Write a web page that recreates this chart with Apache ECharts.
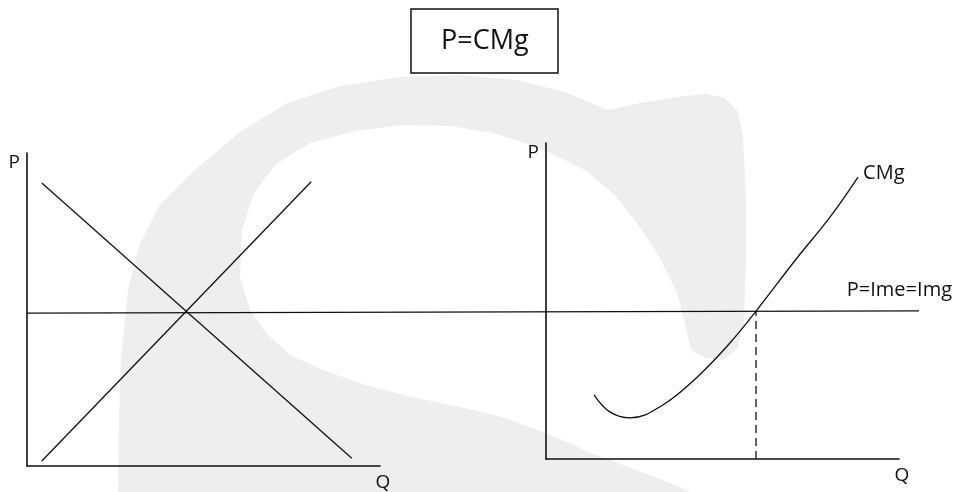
<!DOCTYPE html>
<html>
<head>
<meta charset="utf-8">
<title>P=CMg</title>
<script src="https://cdn.jsdelivr.net/npm/echarts/dist/echarts.min.js"></script>
<style>
  html,body{margin:0;padding:0;background:#fff;}
  #main{width:954px;height:492px;}
</style>
</head>
<body>
<div id="main"></div>
<script>
// left panel: market (demand / supply), units
const demand=[[0.42,9.04],[9.2,0.25]];
const supply=[[0.42,0.16],[8.05,9.08]];
// price level, one line across both panels (own wide grid, same units as the left panel)
const priceLine=[[0,4.9],[25.27,4.97]];
// right panel: firm, marginal cost curve
const cmg=[[1.36,2.03],[1.81,1.49],[2.38,1.30],[3.31,1.71],[4.28,2.59],[5.21,3.67],
  [5.95,4.68],[7.11,6.36],[8.05,7.66],[8.84,8.92]];
const qStar=[[5.95,0],[5.95,4.68]];
const labels={title:'P=CMg',p:'P',q:'Q',cmg:'CMg',price:'P=Ime=Img'};

// light background logo (decoration only)
const watermark=[[118,492],[119,420],[121,360],[128,290],[140,243],[160,205],[195,170],[240,132],[287,103],
  [340,86],[401,77],[460,75],[516,80],[565,92],[608,110],[640,103],[677,97],[705,94],[723,97],[737,110],
  [743,135],[746,200],[746,260],[744,320],[738,348],[723,360],[705,358],[691,350],[684,320],[677,293],
  [660,258],[640,227],[615,195],[585,170],[540,148],[493,133],[450,126],[401,125],[355,131],[310,143],
  [275,165],[254,193],[242,230],[240,277],[250,310],[265,332],[290,355],[323,370],[365,385],[412,397],
  [460,407],[502,417],[546,433],[591,453],[636,470],[680,487],[690,492]];

const FONT='Open Sans';
const INK='#111';

function axisPair(gridIndex){
  const line={show:true,onZero:false,lineStyle:{color:INK,width:1.6}};
  return {
    x:{type:'value',gridIndex:gridIndex,min:0,max:10,axisLine:line,axisTick:{show:false},
      axisLabel:{show:false},splitLine:{show:false},
      name:labels.q,nameLocation:'end',nameGap:3,
      nameTextStyle:{fontFamily:FONT,fontSize:19,color:INK,align:'center',verticalAlign:'top',padding:[7,0,0,0]}},
    y:{type:'value',gridIndex:gridIndex,min:0,max:10,axisLine:line,axisTick:{show:false},
      axisLabel:{show:false},splitLine:{show:false},
      name:labels.p,nameLocation:'end',nameGap:-10,
      nameTextStyle:{fontFamily:FONT,fontSize:19,color:INK,align:'right',verticalAlign:'middle',padding:[0,7,0,0]}}
  };
}
const a0=axisPair(0),a1=axisPair(1);
// hidden axes for the wide price grid
const hidden={show:false,type:'value',gridIndex:2,min:0,splitLine:{show:false}};

function seg(data,gi,extra){
  return Object.assign({
    type:'line',data:data,xAxisIndex:gi,yAxisIndex:gi,
    symbol:'none',silent:true,
    lineStyle:{color:INK,width:1.3}
  },extra||{});
}

const chart=echarts.init(document.getElementById('main'),null,{renderer:'canvas'});
chart.setOption({
  backgroundColor:'#fff',
  animation:false,
  title:{
    text:labels.title,left:411,top:9,
    padding:[15,30,15,30],
    borderColor:INK,borderWidth:1.5,
    textStyle:{fontFamily:FONT,fontSize:27,fontWeight:'normal',color:INK,lineHeight:34}
  },
  graphic:[{
    type:'polygon',z:-10,silent:true,
    shape:{points:watermark},
    style:{fill:'#eeeeee'}
  }],
  grid:[
    {left:27,top:153,width:353,height:314},
    {left:546,top:143,width:353,height:316},
    {left:27,top:153,width:892,height:314}
  ],
  xAxis:[a0.x,a1.x,Object.assign({},hidden,{max:25.27})],
  yAxis:[a0.y,a1.y,Object.assign({},hidden,{max:10})],
  series:[
    seg(demand,0),
    seg(supply,0),
    seg(priceLine,2,{
      endLabel:{show:true,formatter:labels.price,fontFamily:FONT,fontSize:20,color:INK,
        align:'right',distance:0,offset:[33,-21]}
    }),
    seg(cmg,1,{
      smooth:0.4,
      endLabel:{show:true,formatter:labels.cmg,fontFamily:FONT,fontSize:20,color:INK,
        align:'left',distance:5,offset:[0,-4]}
    }),
    seg(qStar,1,{lineStyle:{color:INK,width:1.3,type:[8,5]}})
  ]
});
</script>
</body>
</html>
